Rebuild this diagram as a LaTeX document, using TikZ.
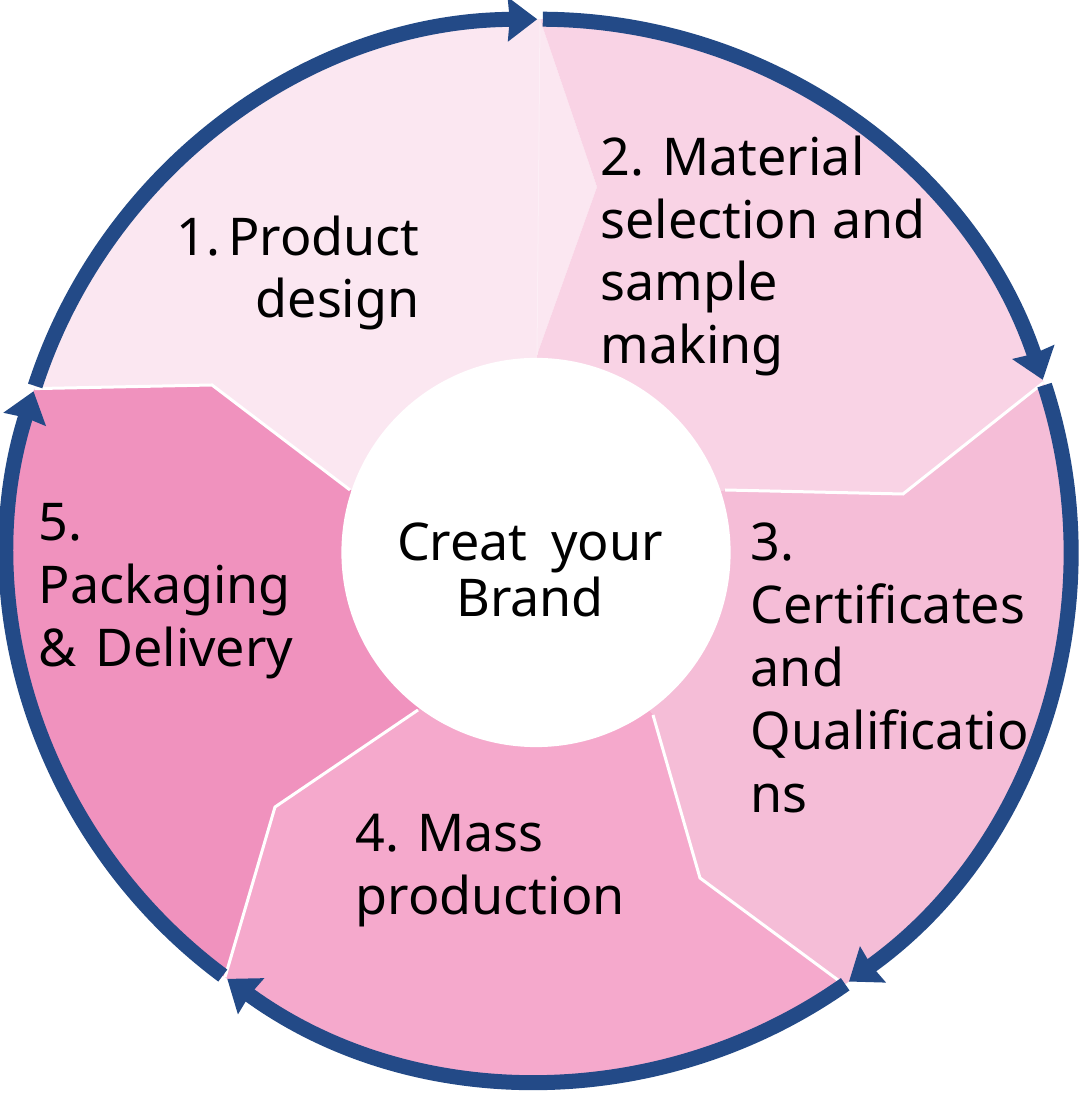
\documentclass[tikz,border=0pt]{standalone}
\usepackage{fontspec}
\setmainfont{Noto Sans}
\usetikzlibrary{arrows.meta}
\definecolor{ringblue}{HTML}{234A87}
\definecolor{petalone}{HTML}{FBE7F1}
\definecolor{petaltwo}{HTML}{F9D3E5}
\definecolor{petalthree}{HTML}{F5BDD7}
\definecolor{petalfour}{HTML}{F5A9CC}
\definecolor{petalfive}{HTML}{F092BE}
\tikzset{
	label/.style={inner sep=0pt, align=left, font=\fontsize{14.8}{17.9}\selectfont},
	ringarc/.style={ringblue, line width=.15cm, -{Stealth[length=.29cm, width=.43cm, inset=.015cm]}},
	seam/.style={white, line width=.03cm}
}
\begin{document}
\begin{tikzpicture}[x=.01cm, y=.01cm]
\useasboundingbox (0,0) rectangle (1080,1094);
\coordinate (ctr) at (540,544);
\coordinate (kink1) at (212,709);
\coordinate (kink2) at (597,907);
\coordinate (kink3) at (903,600);
\coordinate (kink4) at (700,216);
\coordinate (kink5) at (275,287);
\coordinate (in1) at (350,604);
\coordinate (in2) at (537,739);
\coordinate (in3) at (725,604);
\coordinate (in4) at (653,379);
\coordinate (in5) at (418,384);
\foreach \i/\a in {1/162.3,2/90,3/18.4,4/-55,5/-126.4}
{
	\path (ctr) ++(\a:5.305cm) coordinate (rim\i);
}
% petals
\foreach \i/\j/\a/\b/\col in {1/2/162.3/90/petalone,2/3/90/18.4/petaltwo,3/4/18.4/-55/petalthree,4/5/-55/-126.4/petalfour,5/1/-126.4/-197.7/petalfive}
{
	\fill[\col] (rim\i) arc[start angle=\a, end angle=\b, radius=5.305cm]
		-- (kink\j) -- (in\j) -- (ctr) -- (in\i) -- (kink\i) -- cycle;
}
\draw[petalone!70!white, line width=.01cm] (rim2) -- (in2);
\foreach \i in {1,3,4,5}
{
	\draw[seam] (rim\i) -- (kink\i) -- (in\i);
}
% ring
\foreach \a/\b in {162/90.3,89.7/18.7,18.1/-54.4,-54.9/-126.1,-126.7/-197.4}
{
	\draw[ringarc] (ctr) ++(\a:5.305cm) arc[start angle=\a, end angle=\b, radius=5.305cm];
}
\node[circle, fill=white, minimum size=3.89cm, inner sep=0pt] (hub) at (536,541.5) {};
\node[label, align=center, font=\fontsize{14.8}{15.9}\selectfont] (hubtext) at (530,524) {Creat\hspace{.1cm} your\\Brand};
\node[label, align=right] (design) at (298,821) {1.\hspace{-.1cm} Product\\design};
\node[label, anchor=west] (material) at (600,838) {2. Material\\selection and\\sample\\making};
\node[label, anchor=west] (certs) at (750,426) {3.\\Certificates\\and\\Qualificatio\\ns};
\node[label, anchor=west] (mass) at (355,223) {4. Mass\\production};
\node[label, anchor=west] (delivery) at (38,503) {5.\\Packaging\\\&\hspace{.05cm} Delivery};
\end{tikzpicture}
\end{document}
